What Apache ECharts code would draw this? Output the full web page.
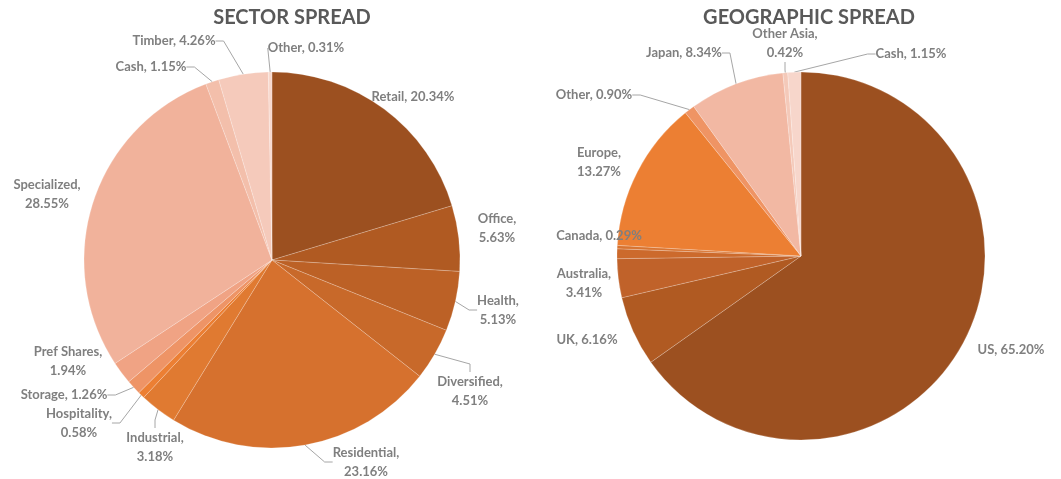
<!DOCTYPE html>
<html>
<head>
<meta charset="utf-8">
<script src="https://cdn.jsdelivr.net/npm/echarts@6/dist/echarts.min.js"></script>
<style>
  html, body { margin: 0; padding: 0; background: #fff; }
  #main { width: 1061px; height: 479px; }
</style>
</head>
<body>
<div id="main"></div>
<script>
// sector spread, clockwise from 12 o'clock
var sectorNames = ['Retail', 'Office', 'Health', 'Diversified', 'Residential', 'Industrial',
    'Hospitality', 'Storage', 'Pref Shares', 'Specialized', 'Cash', 'Timber', 'Other'];
var sectorValues = [20.34, 5.63, 5.13, 4.51, 23.16, 3.18, 0.58, 1.26, 1.94, 28.55, 1.15, 4.26, 0.31];
var sectorColors = ['#9c5020', '#b05a22', '#bc6126', '#c8692a', '#d6712e', '#e07a31',
    '#ec7f33', '#ee9466', '#f0a384', '#f1b29b', '#f3bfab', '#f5cabb', '#f8d9ce'];

// geographic spread (one thin unlabelled slice next to Canada)
var geoNames = ['US', 'UK', 'Australia', '', 'Canada', 'Europe', 'Other', 'Japan', 'Other Asia', 'Cash'];
var geoValues = [65.20, 6.16, 3.41, 0.86, 0.29, 13.27, 0.90, 8.34, 0.42, 1.15];
var geoColors = ['#9c5020', '#b05a22', '#c0622a', '#cc6a2c', '#d87431', '#ec7f33',
    '#ef9464', '#f2b8a3', '#f4c9b9', '#f7d6cb'];

// labels that Excel wrapped onto two lines
var sectorWrapped = ['Office', 'Health', 'Diversified', 'Residential', 'Industrial', 'Hospitality',
    'Pref Shares', 'Specialized'];
var geoWrapped = ['Europe', 'Australia', 'Other Asia'];

// where Excel put the labels (centre of the text block)
var sectorLabelPos = [[413, 97], [497, 228], [498, 310], [470, 391], [366, 462], [155, 447],
    [79, 423], [64, 395], [68, 361], [47, 194], [151, 67], [174, 41], [306, 48]];
var geoLabelPos = [[1011, 350], [587, 340], [584, 283], null, [599, 236], [599, 162],
    [594, 95], [684, 53], [785, 43], [911, 54]];

// slices whose label has a leader line
var sectorLines = ['Health', 'Diversified', 'Residential', 'Industrial', 'Hospitality', 'Storage',
    'Cash', 'Timber', 'Other'];
var geoLines = ['Other', 'Japan', 'Other Asia', 'Cash'];

function buildData(names, values, colors, wrapList, lineList) {
    return names.map(function (n, i) {
        return {
            name: n,
            value: values[i],
            itemStyle: { color: colors[i] },
            label: { show: n !== '' },
            labelLine: { show: lineList.indexOf(n) >= 0 },
            wrap: wrapList.indexOf(n) >= 0
        };
    });
}

function fmt(p) {
    var v = p.value.toFixed(2) + '%';
    return p.data.wrap ? p.name + ',\n' + v : p.name + ', ' + v;
}

function layoutFor(posList) {
    return function (params) {
        var pos = posList[params.dataIndex];
        if (!pos) return {};
        return { x: pos[0], y: pos[1], align: 'center', verticalAlign: 'middle' };
    };
}

var pieBase = {
    type: 'pie',
    startAngle: 90,
    clockwise: true,
    animation: false,
    avoidLabelOverlap: false,
    itemStyle: { borderColor: 'rgba(255,255,255,0.35)', borderWidth: 0.6 },
    label: {
        formatter: fmt,
        color: '#7f7f7f',
        fontFamily: 'Lato',
        fontWeight: 'bold',
        fontSize: 13,
        lineHeight: 19,
        overflow: 'none',
        alignTo: 'none'
    },
    labelLine: { length: 8, length2: 8, lineStyle: { color: '#a6a6a6', width: 1 } },
    emphasis: { disabled: true }
};

var chart = echarts.init(document.getElementById('main'));
chart.setOption({
    backgroundColor: '#fff',
    title: [
        { text: 'SECTOR SPREAD', left: 287, top: 3, textAlign: 'center',
          textStyle: { fontFamily: 'Lato', fontWeight: 'bold', fontSize: 20, color: '#595959' } },
        { text: 'GEOGRAPHIC SPREAD', left: 804, top: 3, textAlign: 'center',
          textStyle: { fontFamily: 'Lato', fontWeight: 'bold', fontSize: 20, color: '#595959' } }
    ],
    series: [
        Object.assign({}, pieBase, {
            center: [272, 260], radius: 188,
            labelLayout: layoutFor(sectorLabelPos),
            data: buildData(sectorNames, sectorValues, sectorColors, sectorWrapped, sectorLines)
        }),
        Object.assign({}, pieBase, {
            center: [801, 256], radius: 184,
            labelLayout: layoutFor(geoLabelPos),
            data: buildData(geoNames, geoValues, geoColors, geoWrapped, geoLines)
        })
    ]
});
</script>
</body>
</html>
